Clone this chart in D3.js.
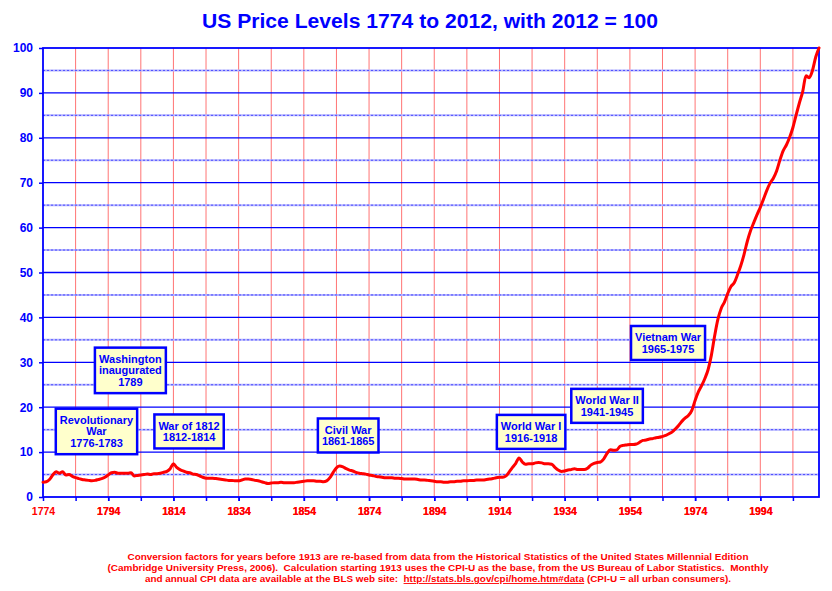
<!DOCTYPE html>
<html>
<head>
<meta charset="utf-8">
<script src="https://cdn.jsdelivr.net/npm/d3@7"></script>
<style>
  html, body { margin: 0; padding: 0; background: #ffffff; }
  svg { display: block; }
  text { font-family: "Liberation Sans", Arial, sans-serif; font-weight: bold; }
</style>
</head>
<body>
<svg id="chart" width="832" height="591"></svg>
<script>
// ---------- DATA ----------
const startYear = 1774;
const endYear = 2012;

// Price level, 2012 = 100, one value per year 1774..1912
const levelsEarly = [
  3.3, 3.4, 3.9, 4.9, 5.6, 5.3, 5.6, 4.9, 5.0, 4.6,   // 1774-1783
  4.3, 4.1, 3.9, 3.8, 3.7, 3.6, 3.7, 3.9, 4.1, 4.4,   // 1784-1793
  4.9, 5.4, 5.5, 5.3, 5.3, 5.3, 5.3, 5.4, 4.7, 4.8,   // 1794-1803
  4.9, 5.0, 5.1, 5.0, 5.2, 5.2, 5.3, 5.5, 5.7, 6.3,   // 1804-1813
  7.4, 6.6, 6.1, 5.8, 5.5, 5.4, 5.1, 5.0, 4.7, 4.4,   // 1814-1823
  4.2, 4.2, 4.2, 4.1, 4.0, 3.9, 3.8, 3.7, 3.7, 3.6,   // 1824-1833
  3.6, 3.8, 4.0, 4.0, 3.9, 3.7, 3.6, 3.4, 3.2, 3.0,   // 1834-1843
  3.1, 3.2, 3.2, 3.3, 3.2, 3.2, 3.2, 3.2, 3.3, 3.4,   // 1844-1853
  3.5, 3.6, 3.6, 3.6, 3.5, 3.5, 3.4, 3.6, 4.3, 5.5,   // 1854-1863
  6.5, 6.9, 6.7, 6.3, 6.0, 5.8, 5.5, 5.3, 5.2, 5.1,   // 1864-1873
  4.9, 4.8, 4.6, 4.5, 4.4, 4.3, 4.3, 4.3, 4.2, 4.2,   // 1874-1883
  4.1, 4.0, 4.0, 4.0, 4.0, 3.9, 3.8, 3.8, 3.7, 3.6,   // 1884-1893
  3.5, 3.4, 3.4, 3.3, 3.3, 3.4, 3.4, 3.5, 3.5, 3.6,   // 1894-1903
  3.6, 3.7, 3.7, 3.8, 3.8, 3.8, 3.9, 4.0, 4.1          // 1904-1912
];

// Price level, 2012 = 100, one value per year 1913..2012
const levelsLate = [
  4.3, 4.4, 4.4, 4.7, 5.6, 6.6, 7.5, 8.7, 7.8, 7.3,   // 1913-1922
  7.4, 7.4, 7.6, 7.7, 7.6, 7.4, 7.4, 7.3, 6.6, 6.0,   // 1923-1932
  5.7, 5.8, 6.0, 6.1, 6.3, 6.1, 6.1, 6.1, 6.4, 7.1,   // 1933-1942
  7.5, 7.7, 7.8, 8.5, 9.7, 10.5, 10.4, 10.5, 11.3, 11.5, // 1943-1952
  11.6, 11.7, 11.7, 11.8, 12.2, 12.6, 12.7, 12.9, 13.0, 13.2, // 1953-1962
  13.3, 13.5, 13.7, 14.1, 14.5, 15.2, 16.0, 16.9, 17.6, 18.2, // 1963-1972
  19.3, 21.5, 23.4, 24.8, 26.4, 28.4, 31.6, 35.9, 39.6, 42.0, // 1973-1982
  43.4, 45.3, 46.9, 47.7, 49.5, 51.5, 54.0, 56.9, 59.3, 61.1, // 1983-1992
  62.9, 64.5, 66.4, 68.3, 69.9, 71.0, 72.6, 75.0, 77.1, 78.4, // 1993-2002
  80.1, 82.3, 85.1, 87.8, 90.3, 93.8, 93.4, 95.0, 98.0, 100.0 // 2003-2012
];

const xTickYears = [1774, 1794, 1814, 1834, 1854, 1874, 1894, 1914, 1934, 1954, 1974, 1994];
const xGridYears = [1784, 1794, 1804, 1814, 1824, 1834, 1844, 1854, 1864, 1874, 1884, 1894,
                    1904, 1914, 1924, 1934, 1944, 1954, 1964, 1974, 1984, 1994, 2004];
const yMajorTicks = [0, 10, 20, 30, 40, 50, 60, 70, 80, 90, 100];
const yMinorTicks = [5, 15, 25, 35, 45, 55, 65, 75, 85, 95];

const titleText = "US Price Levels 1774 to 2012, with 2012 = 100";

// Annotation labels, anchored by (year, level) of the box centre
const annotations = [
  { lines: ["Washington", "inaugurated", "1789"], year: 1800.8, level: 28.2 },
  { lines: ["Revolutionary", "War", "1776-1783"], year: 1790.4, level: 14.6 },
  { lines: ["War of 1812", "1812-1814"], year: 1818.8, level: 14.6 },
  { lines: ["Civil War", "1861-1865"], year: 1867.6, level: 13.7 },
  { lines: ["World War I", "1916-1918"], year: 1923.7, level: 14.5 },
  { lines: ["World War II", "1941-1945"], year: 1947.0, level: 20.3 },
  { lines: ["Vietnam War", "1965-1975"], year: 1965.7, level: 34.3 }
];

const footnoteLines = [
  "Conversion factors for years before 1913 are re-based from data from the Historical Statistics of the United States Millennial Edition",
  "(Cambridge University Press, 2006).  Calculation starting 1913 uses the CPI-U as the base, from the US Bureau of Labor Statistics.  Monthly",
  ["and annual CPI data are available at the BLS web site:  ", "http://stats.bls.gov/cpi/home.htm#data", " (CPI-U = all urban consumers)."]
];

// ---------- BUILD ----------
const series = levelsEarly.concat(levelsLate).map((v, i) => ({ year: startYear + i, value: v }));

const svg = d3.select("#chart");
const W = 832, H = 591;
const margin = { left: 43, right: 13, top: 48, bottom: 94 };
const plotW = W - margin.left - margin.right;
const plotH = H - margin.top - margin.bottom;

const BLUE = "#0000ff";
const RED = "#ff0000";

const x = d3.scaleLinear().domain([startYear, endYear]).range([margin.left, margin.left + plotW]);
const y = d3.scaleLinear().domain([0, 100]).range([margin.top + plotH, margin.top]);

// Title
svg.append("text")
  .attr("x", 430).attr("y", 28)
  .attr("text-anchor", "middle")
  .attr("font-size", 20)
  .attr("fill", BLUE)
  .text(titleText)
  .attr("textLength", 456)
  .attr("lengthAdjust", "spacingAndGlyphs");

const g = svg.append("g");

// Vertical red gridlines
g.selectAll("line.vgrid").data(xGridYears).join("line")
  .attr("class", "vgrid")
  .attr("x1", d => x(d)).attr("x2", d => x(d))
  .attr("y1", y(100)).attr("y2", y(0))
  .attr("stroke", RED).attr("stroke-width", 1).attr("stroke-opacity", 0.55);

// Minor horizontal gridlines (dashed, light blue)
g.selectAll("line.hminorbg").data(yMinorTicks).join("line")
  .attr("class", "hminorbg")
  .attr("x1", x(startYear)).attr("x2", x(endYear))
  .attr("y1", d => y(d)).attr("y2", d => y(d))
  .attr("stroke", "#b3b3ff").attr("stroke-width", 2);
g.selectAll("line.hminor").data(yMinorTicks).join("line")
  .attr("class", "hminor")
  .attr("x1", x(startYear)).attr("x2", x(endYear))
  .attr("y1", d => y(d)).attr("y2", d => y(d))
  .attr("stroke", "#4d4dff").attr("stroke-width", 1)
  .attr("stroke-dasharray", "2,2");

// Major horizontal gridlines
g.selectAll("line.hmajor").data(yMajorTicks.filter(d => d > 0 && d < 100)).join("line")
  .attr("class", "hmajor")
  .attr("x1", x(startYear)).attr("x2", x(endYear))
  .attr("y1", d => y(d)).attr("y2", d => y(d))
  .attr("stroke", BLUE).attr("stroke-width", 1.3);

// Plot frame
g.append("rect")
  .attr("x", x(startYear)).attr("y", y(100))
  .attr("width", x(endYear) - x(startYear)).attr("height", y(0) - y(100))
  .attr("fill", "none").attr("stroke", BLUE).attr("stroke-width", 1.8);

// Y axis
const yAxis = d3.axisLeft(y).tickValues(yMajorTicks).tickSize(4).tickPadding(6);
const yg = svg.append("g").attr("transform", `translate(${margin.left},0)`).call(yAxis);
yg.select(".domain").remove();
yg.selectAll(".tick line").attr("stroke", BLUE).attr("stroke-width", 1.5);
yg.selectAll(".tick text")
  .attr("fill", BLUE).attr("font-size", 12)
  .attr("font-family", "Liberation Sans, Arial, sans-serif").attr("font-weight", "bold");

// X axis
const xAxis = d3.axisBottom(x).tickValues(xTickYears.concat(xGridYears)).tickSize(4).tickPadding(7)
  .tickFormat(d => xTickYears.includes(d) ? String(d) : "");
const xg = svg.append("g").attr("transform", `translate(0,${margin.top + plotH})`).call(xAxis);
xg.select(".domain").remove();
xg.selectAll(".tick line").attr("stroke", BLUE).attr("stroke-width", 1.5);
xg.selectAll(".tick text")
  .attr("fill", RED).attr("font-size", 10.5)
  .attr("font-family", "Liberation Sans, Arial, sans-serif").attr("font-weight", "bold");

// Price line
const line = d3.line().x(d => x(d.year)).y(d => y(d.value)).curve(d3.curveMonotoneX);
svg.append("path")
  .datum(series)
  .attr("d", line)
  .attr("fill", "none")
  .attr("stroke", RED)
  .attr("stroke-width", 3)
  .attr("stroke-linejoin", "round")
  .attr("stroke-linecap", "round");

// Annotations
const lineH = 11.5;
annotations.forEach(a => {
  const ag = svg.append("g");
  const cx = x(a.year), cy = y(a.level);
  const n = a.lines.length;
  const rect = ag.append("rect");
  const texts = ag.selectAll("text").data(a.lines).join("text")
    .attr("x", cx)
    .attr("y", (d, i) => cy - (n - 1) * lineH / 2 + i * lineH + 4)
    .attr("text-anchor", "middle")
    .attr("font-size", 11)
    .attr("fill", BLUE)
    .text(d => d);
  let maxW = 0;
  texts.each(function () { maxW = Math.max(maxW, this.getComputedTextLength()); });
  const bw = maxW + 8, bh = n * lineH + 11;
  rect.attr("x", cx - bw / 2).attr("y", cy - bh / 2)
    .attr("width", bw).attr("height", bh)
    .attr("fill", "#ffffcc").attr("stroke", BLUE).attr("stroke-width", 2.5);
});

// Footnote
const fnBase = [560, 571, 582];
const fnWidths = [621, 661, 586];
const fnCenter = 438;
footnoteLines.forEach((ln, i) => {
  const t = svg.append("text")
    .attr("x", fnCenter).attr("y", fnBase[i])
    .attr("text-anchor", "middle")
    .attr("font-size", 9)
    .attr("fill", RED);
  if (Array.isArray(ln)) {
    ln.forEach((part, j) => {
      t.append("tspan").text(part)
        .attr("text-decoration", j === 1 ? "underline" : null)
        .style("white-space", "pre");
    });
  } else {
    t.text(ln);
  }
  t.style("white-space", "pre")
    .attr("textLength", fnWidths[i])
    .attr("lengthAdjust", "spacingAndGlyphs");
});
</script>
</body>
</html>
